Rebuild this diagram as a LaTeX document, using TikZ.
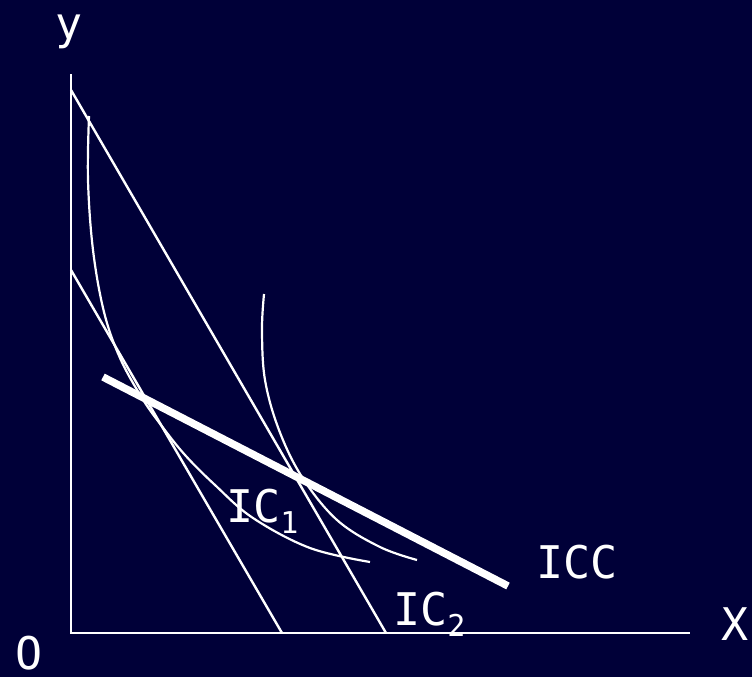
\documentclass[tikz,border=0pt]{standalone}
\usepackage{fontspec}
\setmainfont{DejaVu Sans Mono}
\definecolor{bg}{RGB}{0,0,56}
\tikzset{
  thinline/.style={white, line width=2.4pt},
  curveline/.style={white, line width=2.2pt},
  iccline/.style={white, line width=7.5pt},
  lbl/.style={white, inner sep=0pt, anchor=base west, font=\fontsize{45}{50}\selectfont},
}
\newcommand{\subnum}[1]{\raisebox{-11pt}{\fontsize{30}{30}\selectfont #1}}
\begin{document}
\begin{tikzpicture}[x=1pt,y=-1pt]
  \fill[bg] (0,0) rectangle (752,677);
  \useasboundingbox (0,0) rectangle (752,677);
  % axes
  \coordinate (O) at (71,633);
  \coordinate (ytop) at (71,74);
  \coordinate (xend) at (690,633);
  \draw[thinline] (ytop) -- (O) -- (xend);
  % budget lines
  \coordinate (b1a) at (71,90);
  \coordinate (b1b) at (386,633);
  \coordinate (b2a) at (71,270);
  \coordinate (b2b) at (282,633);
  \draw[thinline] (b1a) -- (b1b);
  \draw[thinline] (b2a) -- (b2b);
  % indifference curves
  \draw[curveline] plot[smooth, tension=0.6] coordinates
    {(89,116) (88,180) (93,250) (104,312) (120,358) (142,398) (161,425) (185,455) (215,485) (253,518) (310,548) (370,562)};
  \draw[curveline] plot[smooth, tension=0.6] coordinates
    {(264,294) (262,330) (265,380) (279,430) (302,477) (337,520) (380,547) (417,560)};
  % ICC
  \coordinate (icca) at (103,377);
  \coordinate (iccb) at (508,586);
  \draw[iccline] (icca) -- (iccb);
  % labels
  \node[lbl] (ly) at (55,40) {y};
  \node[lbl] (lx) at (721,640) {X};
  \node[lbl] (lo) at (15,669) {O};
  \node[lbl] (ic1) at (226,522) {IC\subnum{1}};
  \node[lbl] (ic2) at (393,625) {IC\subnum{2}};
  \node[lbl] (icc) at (536,578) {ICC};
\end{tikzpicture}
\end{document}
